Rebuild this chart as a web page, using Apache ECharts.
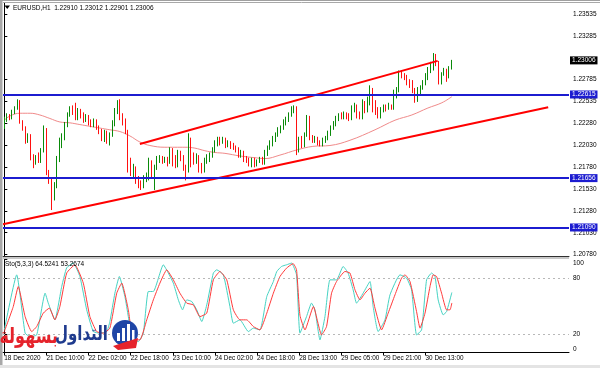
<!DOCTYPE html>
<html><head><meta charset="utf-8">
<script src="https://cdn.jsdelivr.net/npm/echarts@6/dist/echarts.min.js"></script>
<style>html,body{margin:0;padding:0;background:#fff}#c{width:600px;height:368px}</style>
</head><body><div id="c"></div>
<script>
// ---- Data (EURUSD H1) ----
const opens = [
1.2224,1.2232,1.2237,1.2234,1.2241,1.2246,1.2254,1.2230,1.2223,1.2209,
1.2215,1.2191,1.2184,1.2190,1.2186,1.2198,1.2221,1.2172,1.2163,1.2145,
1.2156,1.2186,1.2203,1.2214,1.2226,1.2238,1.2244,1.2240,1.2234,1.2241,
1.2237,1.2232,1.2236,1.2229,1.2226,1.2231,1.2223,1.2218,1.2212,1.2216,
1.2209,1.2215,1.2228,1.2241,1.2250,1.2234,1.2230,1.2218,1.2181,1.2172,
1.2177,1.2163,1.2159,1.2156,1.2166,1.2169,1.2184,1.2169,1.2177,1.2186,
1.2189,1.2185,1.2187,1.2184,1.2198,1.2186,1.2181,1.2192,1.2189,1.2177,
1.2175,1.2209,1.2186,1.2184,1.2190,1.2177,1.2175,1.2184,1.2189,1.2192,
1.2198,1.2206,1.2209,1.2207,1.2209,1.2203,1.2206,1.2202,1.2200,1.2198,
1.2192,1.2194,1.2187,1.2185,1.2183,1.2186,1.2182,1.2185,1.2187,1.2183,
1.2193,1.2200,1.2206,1.2209,1.2215,1.2221,1.2223,1.2230,1.2232,1.2238,
1.2244,1.2246,1.2200,1.2209,1.2203,1.2215,1.2234,1.2212,1.2208,1.2210,
1.2206,1.2205,1.2208,1.2212,1.2216,1.2223,1.2228,1.2233,1.2237,1.2236,
1.2239,1.2236,1.2234,1.2246,1.2248,1.2238,1.2236,1.2250,1.2244,1.2252,
1.2267,1.2246,1.2241,1.2237,1.2244,1.2247,1.2246,1.2248,1.2246,1.2261,
1.2267,1.2287,1.2283,1.2280,1.2275,1.2272,1.2267,1.2256,1.2264,1.2269,
1.2275,1.2280,1.2289,1.2294,1.2299,1.2296,1.2276,1.2285,1.2288,1.2283,
1.22910];
const closes = [
1.2232,1.2237,1.2234,1.2241,1.2246,1.2255,1.2230,1.2223,1.2209,1.2215,
1.2191,1.2184,1.2190,1.2186,1.2198,1.2221,1.2172,1.2163,1.2145,1.2156,
1.2186,1.2203,1.2214,1.2226,1.2238,1.2244,1.2240,1.2234,1.2241,1.2237,
1.2232,1.2236,1.2229,1.2226,1.2231,1.2223,1.2218,1.2212,1.2216,1.2209,
1.2215,1.2228,1.2241,1.2250,1.2234,1.2230,1.2218,1.2181,1.2172,1.2177,
1.2163,1.2159,1.2156,1.2166,1.2169,1.2184,1.2169,1.2177,1.2186,1.2189,
1.2185,1.2187,1.2184,1.2198,1.2186,1.2181,1.2192,1.2189,1.2177,1.2175,
1.2209,1.2186,1.2184,1.2190,1.2177,1.2175,1.2184,1.2189,1.2192,1.2198,
1.2206,1.2209,1.2207,1.2209,1.2203,1.2206,1.2202,1.2200,1.2198,1.2192,
1.2194,1.2187,1.2185,1.2183,1.2186,1.2182,1.2185,1.2187,1.2183,1.2193,
1.2200,1.2206,1.2209,1.2215,1.2221,1.2223,1.2230,1.2232,1.2238,1.2244,
1.2246,1.2200,1.2209,1.2203,1.2215,1.2234,1.2212,1.2208,1.2210,1.2206,
1.2205,1.2208,1.2212,1.2216,1.2223,1.2228,1.2233,1.2237,1.2236,1.2239,
1.2236,1.2234,1.2246,1.2248,1.2238,1.2236,1.2250,1.2244,1.2252,1.2267,
1.2246,1.2241,1.2237,1.2244,1.2247,1.2246,1.2248,1.2246,1.2261,1.2267,
1.2287,1.2283,1.2280,1.2275,1.2272,1.2267,1.2256,1.2264,1.2269,1.2275,
1.2280,1.2289,1.2294,1.2299,1.2296,1.2276,1.2285,1.2288,1.2283,1.2291,
1.23006];
const lows = [
1.2222,1.2230,1.2232,1.2233,1.2239,1.2244,1.2228,1.2220,1.2205,1.2206,
1.2186,1.2177,1.2181,1.2183,1.2183,1.2195,1.2169,1.2159,1.2129,1.2140,
1.2154,1.2184,1.2200,1.2209,1.2224,1.2236,1.2238,1.2232,1.2232,1.2234,
1.2229,1.2230,1.2226,1.2224,1.2224,1.2221,1.2216,1.2208,1.2207,1.2205,
1.2203,1.2213,1.2225,1.2239,1.2232,1.2226,1.2216,1.2172,1.2168,1.2166,
1.2159,1.2154,1.2152,1.2154,1.2161,1.2163,1.2166,1.2152,1.2175,1.2183,
1.2182,1.2183,1.2179,1.2182,1.2179,1.2177,1.2178,1.2185,1.2174,1.2163,
1.2172,1.2178,1.2181,1.2182,1.2172,1.2171,1.2172,1.2182,1.2184,1.2189,
1.2195,1.2202,1.2203,1.2205,1.2200,1.2201,1.2199,1.2198,1.2195,1.2189,
1.2189,1.2184,1.2183,1.2179,1.2178,1.2178,1.2179,1.2183,1.2181,1.2181,
1.2191,1.2198,1.2202,1.2207,1.2213,1.2217,1.2221,1.2226,1.2230,1.2236,
1.2240,1.2192,1.2195,1.2200,1.2201,1.2213,1.2209,1.2206,1.2206,1.2203,
1.2202,1.2202,1.2206,1.2209,1.2214,1.2221,1.2225,1.2231,1.2233,1.2233,
1.2233,1.2231,1.2232,1.2241,1.2234,1.2233,1.2233,1.2240,1.2241,1.2249,
1.2241,1.2238,1.2234,1.2234,1.2241,1.2242,1.2244,1.2244,1.2244,1.2257,
1.2264,1.2280,1.2278,1.2272,1.2269,1.2263,1.2252,1.2253,1.2261,1.2267,
1.2272,1.2278,1.2286,1.2289,1.2294,1.2273,1.2273,1.2283,1.2276,1.2280,
1.22901];
const highs = [
1.2236,1.2240,1.2239,1.2244,1.2248,1.2256,1.2255,1.2232,1.2225,1.2217,
1.2216,1.2193,1.2192,1.2195,1.2200,1.2226,1.2223,1.2175,1.2166,1.2161,
1.2191,1.2212,1.2217,1.2230,1.2241,1.2248,1.2249,1.2252,1.2246,1.2245,
1.2241,1.2239,1.2238,1.2233,1.2234,1.2233,1.2226,1.2222,1.2221,1.2220,
1.2218,1.2232,1.2246,1.2255,1.2256,1.2240,1.2234,1.2221,1.2189,1.2182,
1.2179,1.2168,1.2163,1.2169,1.2172,1.2189,1.2186,1.2181,1.2191,1.2192,
1.2191,1.2190,1.2190,1.2201,1.2200,1.2192,1.2198,1.2197,1.2192,1.2181,
1.2217,1.2212,1.2195,1.2194,1.2192,1.2183,1.2189,1.2193,1.2195,1.2201,
1.2209,1.2213,1.2213,1.2213,1.2212,1.2209,1.2208,1.2206,1.2203,1.2201,
1.2198,1.2197,1.2191,1.2189,1.2189,1.2189,1.2187,1.2190,1.2190,1.2198,
1.2203,1.2209,1.2214,1.2218,1.2224,1.2226,1.2233,1.2236,1.2241,1.2248,
1.2249,1.2248,1.2213,1.2214,1.2218,1.2238,1.2237,1.2215,1.2214,1.2213,
1.2209,1.2212,1.2214,1.2220,1.2226,1.2231,1.2237,1.2240,1.2241,1.2242,
1.2241,1.2240,1.2249,1.2252,1.2250,1.2242,1.2256,1.2254,1.2259,1.2272,
1.2269,1.2255,1.2247,1.2247,1.2250,1.2250,1.2252,1.2250,1.2267,1.2270,
1.2289,1.2289,1.2286,1.2284,1.2279,1.2278,1.2269,1.2270,1.2272,1.2278,
1.2286,1.2293,1.2299,1.2309,1.2308,1.2300,1.2287,1.2292,1.2291,1.2294,
1.23012];

const tickLabels = ['18 Dec 2020','21 Dec 10:00','22 Dec 02:00','22 Dec 18:00','23 Dec 10:00',
  '24 Dec 02:00','24 Dec 18:00','28 Dec 13:00','29 Dec 05:00','29 Dec 21:00','30 Dec 13:00'];
const barsPerLabel = 16;
const emptySlots = 44; // chart shift on the right

// moving average [bar index, price]
const maPoints = [[0,1.2232],[2.2,1.2237],[6.0,1.2240],[9.8,1.2240],[13.5,1.2238],[17.3,1.2234],
  [21.1,1.2230],[24.9,1.2229],[28.7,1.2227],[32.5,1.2225],[36.3,1.2223],[40.1,1.2221],[43.9,1.2219],
  [47.7,1.2214],[51.5,1.2207],[55.3,1.2203],[61.0,1.2201],[64.8,1.2201],[68.6,1.2201],[72.4,1.2200],
  [76.2,1.2197],[80.0,1.2195],[83.8,1.2194],[89.5,1.2191],[95.2,1.2189],[99.0,1.2188],[104.7,1.2192],
  [111.2,1.2198],[117.2,1.2202],[123.7,1.2203],[131.3,1.2209],[140.8,1.2221],[148.4,1.2232],
  [154.8,1.2238],[160.9,1.2246],[166.2,1.2252],[170,1.2259]];

// horizontal levels and trend lines
const levels = [1.22615, 1.21656, 1.21090];
const lastPrice = 1.23006;
const trendLower = [[-0.5,1.21127],[206.6,1.22468]];
const trendUpper = [[51.5,1.22047],[164.6,1.23000]];
const priceTicks = [1.2078,1.2103,1.2128,1.2153,1.2178,1.2203,1.2228,1.22535,1.22785,1.23285,1.23535];

// stochastic (5,3,3) [bar index, value]
const stochK = [[0,24.3],[4.7,83.5],[7.9,20.8],[9.8,17.1],[12.3,18.9],[15.5,63.8],[16.7,53.1],[19.2,35.1],
  [21.8,70.9],[23.7,91.1],[26.2,96.1],[28.7,81.7],[31.3,45.9],[33.8,22.5],[36.3,20.8],[38.9,22.5],
  [40.1,33.3],[42.0,63.8],[43.7,81.7],[45.8,60.2],[47.1,38.6],[48.4,17.1],[50.9,11.7],[52.8,20.8],
  [54.7,65.6],[56.6,65.6],[60.4,94.3],[62.3,85.4],[64.2,74.6],[66.1,56.6],[67.7,45.9],[69.3,56.6],
  [71.2,54.8],[73.1,45.9],[75.0,33.3],[76.9,51.2],[79.4,85.4],[80.7,88.9],[83.2,83.5],[85.7,49.4],
  [87.0,31.5],[89.5,35.1],[92.7,22.5],[94.6,26.2],[97.1,24.3],[99.7,60.2],[102.2,76.3],[103.5,87.1],
  [105.3,92.5],[107.2,94.3],[109.1,96.1],[111.0,83.5],[112.3,20.8],[114.8,38.6],[116.7,53.1],
  [118.0,45.9],[119.9,13.6],[121.8,38.6],[123.7,78.1],[126.2,78.1],[128.7,92.5],[130.6,85.4],
  [132.5,67.4],[133.8,53.1],[136.3,63.8],[138.9,76.3],[140.1,49.4],[142.0,22.5],[144.6,35.1],
  [146.5,62.0],[150.3,83.5],[152.8,80.0],[154.7,67.4],[156.6,18.9],[158.5,24.3],[160.4,78.1],
  [162.3,85.4],[163.6,81.7],[164.8,56.6],[166.7,40.5],[168.0,44.0],[170,64.5241]];
const stochD = [[0,22.5],[3.4,49.4],[5.3,70.9],[7.9,38.6],[10.4,22.5],[12.3,27.9],[14.8,42.3],[17.1,47.7],
  [19.2,35.1],[21.1,49.4],[23.7,85.4],[26.8,94.3],[30.0,74.6],[32.5,38.6],[35.1,22.5],[37.6,20.8],
  [40.1,26.2],[42.7,63.8],[44.6,74.6],[47.1,45.9],[49.0,13.6],[51.5,13.6],[54.1,35.1],[56.6,56.6],
  [59.1,74.6],[61.7,88.9],[64.2,78.1],[66.7,63.8],[69.3,53.1],[71.8,51.2],[74.3,38.6],[76.9,42.3],
  [79.4,78.1],[81.9,87.1],[84.5,78.1],[87.0,45.9],[89.5,35.1],[92.1,35.1],[94.6,27.9],[97.1,24.3],
  [99.7,42.3],[102.2,63.8],[104.7,81.7],[107.2,90.7],[109.7,95.6],[111.0,88.9],[112.3,40.0],
  [114.2,24.3],[117.4,49.4],[120.5,18.9],[122.4,27.9],[124.3,63.8],[126.2,76.3],[129.4,87.1],
  [131.3,85.4],[133.2,67.4],[135.1,56.6],[137.0,63.8],[138.9,69.2],[140.8,47.7],[143.3,24.3],
  [145.8,42.3],[148.4,62.0],[150.9,80.0],[152.2,83.5],[154.1,76.3],[156.6,44.0],[157.9,26.2],
  [159.8,42.3],[161.7,70.9],[162.9,83.5],[164.2,81.7],[166.1,63.8],[168.0,45.9],[169.3,45.9],[170,53.2674]];
const stochTicks = [0,20,80,100];
const stochLevels = [20,80];

// ---- build ----
const nBars = opens.length;
const nSlots = nBars + emptySlots;
const cats = Array.from({length:nSlots}, (_, i) => String(i));
const candles = opens.map((o, i) => [o, closes[i], lows[i], highs[i]]);
const isTick = (i) => i % barsPerLabel === 0 && i < nBars;
const F = '"Liberation Sans", Arial, sans-serif';
const AR = '"DejaVu Sans", sans-serif';
const BLUE = '#1c1cd0';
const labelBox = (bg) => ({show:true, position:'end', distance:1, color:'#fff', backgroundColor:bg,
  padding:[1,2,0,2], fontSize:6.5, fontFamily:F});

const levelMarks = levels.map(v => ({yAxis:v, lineStyle:{color:BLUE, width:2, type:'solid'},
    label:Object.assign(labelBox(BLUE), {formatter:v.toFixed(5)})}))
  .concat([{yAxis:lastPrice, lineStyle:{color:'rgba(255,255,255,0)', width:1, type:'solid'},
    label:Object.assign(labelBox('#000'), {formatter:lastPrice.toFixed(5)})}]);

const chart = echarts.init(document.getElementById('c'), null, {renderer:'canvas'});
chart.setOption({
  animation: false,
  backgroundColor: '#ffffff',
  grid: [
    {left:3, right:31, top:3, height:253},
    {left:3, right:31, top:259.5, height:93}
  ],
  xAxis: [
    {type:'category', gridIndex:0, data:cats, boundaryGap:true,
     axisLine:{show:true, lineStyle:{color:'#303030', width:1}}, axisTick:{show:false}, axisLabel:{show:false}},
    {type:'value', gridIndex:0, min:-0.5, max:nSlots-0.5, show:false},
    {type:'category', gridIndex:1, data:cats, boundaryGap:true,
     axisLine:{show:true, lineStyle:{color:'#000', width:1}},
     axisTick:{show:true, alignWithLabel:true, interval:(i)=>isTick(i), length:3, lineStyle:{color:'#000'}},
     axisLabel:{show:true, interval:(i)=>isTick(i), formatter:(v, i)=>tickLabels[i / barsPerLabel] || '',
       align:'left', margin:3, fontSize:6.4, fontFamily:F, color:'#000'}},
    {type:'value', gridIndex:1, min:-0.5, max:nSlots-0.5, show:false}
  ],
  yAxis: [
    {type:'value', gridIndex:0, position:'right', min:1.20763, max:1.23664, scale:true,
     splitLine:{show:false},
     axisLine:{show:true, lineStyle:{color:'#000'}},
     axisTick:{show:true, customValues:priceTicks, length:3, lineStyle:{color:'#000'}},
     axisLabel:{show:true, customValues:priceTicks, formatter:(v)=>v.toFixed(5), fontSize:6.5, fontFamily:F, color:'#000', margin:4}},
    {type:'value', gridIndex:1, position:'right', min:0, max:100,
     splitLine:{show:false},
     axisLine:{show:true, lineStyle:{color:'#000'}},
     axisTick:{show:true, customValues:stochTicks, length:3, lineStyle:{color:'#000'}},
     axisLabel:{show:true, customValues:stochTicks, fontSize:6.5, fontFamily:F, color:'#000', margin:4,
       formatter:(v)=> v===100 ? '{a|100}' : (v===0 ? '{b|0}' : String(v)),
       rich:{a:{padding:[7,0,0,0], fontSize:6.5, fontFamily:F}, b:{padding:[0,0,7,0], fontSize:6.5, fontFamily:F}}}}
  ],
  series: [
    {type:'line', name:'MA', xAxisIndex:1, yAxisIndex:0, data:maPoints, smooth:0.4, showSymbol:false,
     lineStyle:{color:'#f08a8a', width:1}, z:2, silent:true,
     markLine:{symbol:'none', silent:true, animation:false, precision:5, data:levelMarks}},
    {type:'candlestick', xAxisIndex:0, yAxisIndex:0, data:candles, barWidth:1.3, z:3,
     itemStyle:{color:'#0a8a0a', color0:'#ff0000', borderColor:'#0a8a0a', borderColor0:'#ff1010', borderWidth:1}},
    {type:'line', xAxisIndex:1, yAxisIndex:0, data:trendLower, showSymbol:false, lineStyle:{color:'#ff0000', width:2}, z:4, silent:true},
    {type:'line', xAxisIndex:1, yAxisIndex:0, data:trendUpper, showSymbol:false, lineStyle:{color:'#ff0000', width:2}, z:4, silent:true},
    {type:'line', name:'K', xAxisIndex:3, yAxisIndex:1, data:stochK, showSymbol:false, smooth:0.15,
     lineStyle:{color:'#45d3c3', width:1}, silent:true,
     markLine:{symbol:'none', silent:true, label:{show:false},
       data: stochLevels.map(v => ({yAxis:v})), lineStyle:{color:'#b8b8b8', type:[2,3], width:1}}},
    {type:'line', name:'D', xAxisIndex:3, yAxisIndex:1, data:stochD, showSymbol:false, smooth:0.15,
     lineStyle:{color:'#ff3a3a', width:1}, silent:true}
  ],
  graphic: [
    {type:'rect', shape:{x:0, y:0, width:2.5, height:368}, style:{fill:'#a8a8a8'}, z:50},
    {type:'rect', shape:{x:0, y:0, width:600, height:1}, style:{fill:'#a0a0a0'}, z:50},
    {type:'line', shape:{x1:3, y1:2.5, x2:600, y2:2.5}, style:{stroke:'#a8a8a8', lineWidth:1}, z:50},
    {type:'line', shape:{x1:3, y1:258, x2:569, y2:258}, style:{stroke:'#909090', lineWidth:1}, z:50},
    {type:'rect', shape:{x:0, y:365, width:600, height:3}, style:{fill:'#e4e4e4'}, z:50},
    {type:'polygon', shape:{points:[[4.5,5.5],[10,5.5],[7.25,9]]}, style:{fill:'#000'}, z:60},
    {type:'text', style:{text:'EURUSD,H1  1.22910 1.23012 1.22901 1.23006', x:13, y:8, verticalAlign:'middle',
      fontSize:6.5, fontFamily:F, fill:'#000'}, z:60},
    {type:'text', style:{text:'Sto(5,3,3) 64.5241 53.2674', x:5, y:264.5, verticalAlign:'middle',
      fontSize:6.5, fontFamily:F, fill:'#000'}, z:60},
    // watermark logo
    {type:'text', x:58, y:337, scaleY:1.35, style:{text:'بسهولة', x:0, y:0, align:'right', verticalAlign:'middle',
      fontSize:16, fontWeight:'bold', fontFamily:AR, fill:'#e5232b'}, z:100},
    {type:'text', x:108, y:335, scaleY:1.35, style:{text:'التداول', x:0, y:0, align:'right', verticalAlign:'middle',
      fontSize:15, fontWeight:'bold', fontFamily:AR, fill:'#1f3b8e'}, z:100},
    {type:'circle', shape:{cx:125, cy:333, r:13}, style:{fill:'#1f45a6'}, z:100},
    {type:'rect', shape:{x:117, y:333, width:3, height:8}, style:{fill:'#fff'}, z:101},
    {type:'rect', shape:{x:122, y:328, width:3, height:13}, style:{fill:'#fff'}, z:101},
    {type:'rect', shape:{x:127, y:324, width:3, height:17}, style:{fill:'#fff'}, z:101},
    {type:'rect', shape:{x:132, y:330, width:2.5, height:11}, style:{fill:'#fff'}, z:101},
    {type:'polygon', shape:{points:[[113,346],[138,338],[136,348],[118,350]]}, style:{fill:'#e5232b'}, z:102}
  ]
});
</script>
</body></html>
